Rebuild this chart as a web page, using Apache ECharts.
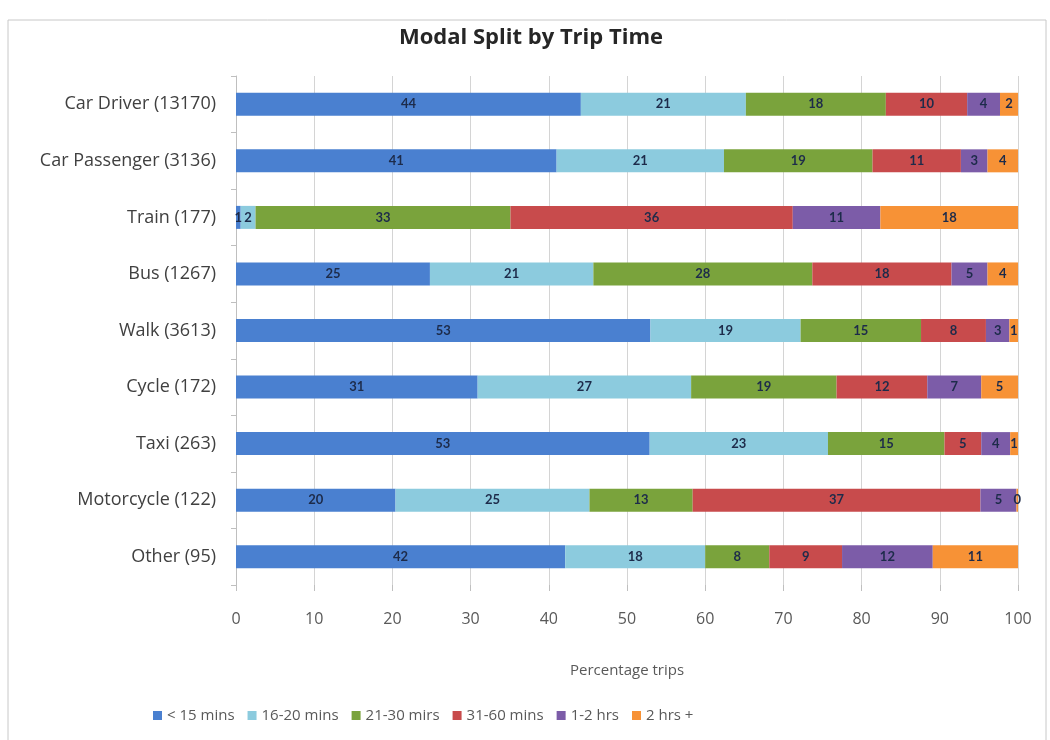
<!DOCTYPE html>
<html>
<head>
<meta charset="utf-8">
<script src="https://cdn.jsdelivr.net/npm/echarts@6/dist/echarts.min.js"></script>
<style>
    html, body { margin: 0; padding: 0; background: #fff; }
    #chart { width: 1050px; height: 740px; }
</style>
</head>
<body>
<div id="chart"></div>
<script>
    // categories (top to bottom)
    var modes = ['Car Driver (13170)', 'Car Passenger (3136)', 'Train (177)', 'Bus (1267)',
        'Walk (3613)', 'Cycle (172)', 'Taxi (263)', 'Motorcycle (122)', 'Other (95)'];

    var bands = ['< 15 mins', '16-20 mins', '21-30 mirs', '31-60 mins', '1-2 hrs', '2 hrs +'];

    // percentage of trips per band
    var under15  = [44.1, 41.0,  0.6, 24.8, 53.0, 30.9, 52.9, 20.4, 42.1];
    var m16to20  = [21.1, 21.4,  1.9, 20.9, 19.2, 27.3, 22.8, 24.8, 17.9];
    var m21to30  = [17.9, 19.0, 32.6, 28.0, 15.4, 18.6, 14.9, 13.2,  8.2];
    var m31to60  = [10.4, 11.3, 36.1, 17.8,  8.3, 11.6,  4.7, 36.8,  9.3];
    var h1to2    = [ 4.2,  3.4, 11.2,  4.6,  3.0,  6.9,  3.7,  4.6, 11.6];
    var h2plus   = [ 2.3,  3.9, 17.6,  3.9,  1.1,  4.7,  1.0,  0.2, 10.9];

    var xTicks = [0, 10, 20, 30, 40, 50, 60, 70, 80, 90, 100];

    var colors = ['#4a80d0', '#8ccbde', '#7aa33c', '#c84b4c', '#7c5ca8', '#f79236'];
    var seriesData = [under15, m16to20, m21to30, m31to60, h1to2, h2plus];

    var myChart = echarts.init(document.getElementById('chart'));

    var series = bands.map(function (name, i) {
        return {
            name: name,
            type: 'bar',
            stack: 'total',
            barWidth: 23,
            data: seriesData[i],
            itemStyle: { color: colors[i] },
            label: {
                show: true,
                position: 'inside',
                color: '#1d2b4a',
                fontFamily: 'Liberation Sans Narrow, Lato',
                fontWeight: 'bold',
                fontSize: 13,
                formatter: function (p) { return Math.round(p.value); }
            }
        };
    });

    var options = {
        animation: false,
        color: colors,
        title: {
            text: 'Modal Split by Trip Time',
            left: 526,
            top: 22,
            textAlign: 'center',
            textStyle: {
                color: '#262626',
                fontFamily: 'Open Sans',
                fontWeight: 'bold',
                fontSize: 22
            }
        },
        graphic: [{
            type: 'polyline',
            shape: { points: [[8, 740], [8, 20], [1046, 20], [1046, 740]] },
            style: { stroke: '#c8c8c8', lineWidth: 1, fill: null },
            silent: true
        }],
        grid: {
            left: 236,
            right: 32,
            top: 76,
            bottom: 155
        },
        legend: {
            data: bands,
            bottom: 12,
            left: 148,
            itemWidth: 9,
            itemHeight: 9,
            itemGap: 13,
            icon: 'rect',
            textStyle: {
                color: '#595959',
                fontFamily: 'Open Sans',
                fontSize: 15
            }
        },
        xAxis: {
            type: 'value',
            min: xTicks[0],
            max: xTicks[xTicks.length - 1],
            interval: 10,
            name: 'Percentage trips',
            nameLocation: 'middle',
            nameGap: 78,
            nameTextStyle: { color: '#595959', fontFamily: 'Open Sans', fontSize: 15 },
            axisLine: { show: false },
            axisTick: { show: true, length: 6, lineStyle: { color: '#bfbfbf' } },
            axisLabel: {
                color: '#595959',
                fontFamily: 'Open Sans',
                fontSize: 16,
                margin: 26
            },
            splitLine: { show: true, lineStyle: { color: '#d4d4d4' } }
        },
        yAxis: {
            type: 'category',
            data: modes,
            inverse: true,
            axisLine: { show: true, lineStyle: { color: '#bfbfbf' } },
            axisTick: { show: true, length: 5, lineStyle: { color: '#bfbfbf' } },
            axisLabel: {
                color: '#404040',
                fontFamily: 'Open Sans',
                fontSize: 18,
                margin: 20
            }
        },
        series: series
    };

    myChart.setOption(options);
    window.addEventListener('resize', myChart.resize);
</script>
</body>
</html>
